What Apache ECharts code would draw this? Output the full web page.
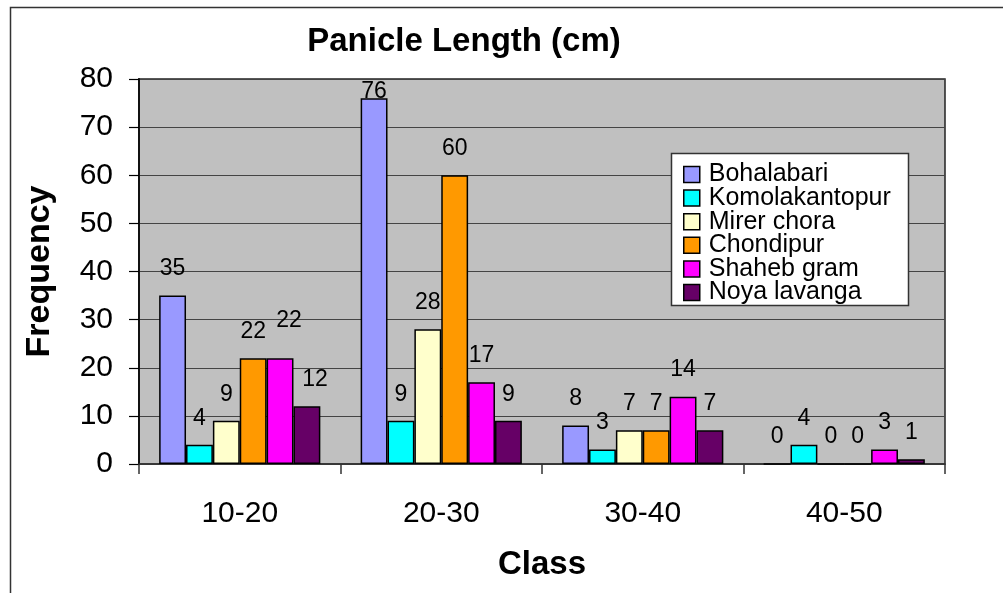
<!DOCTYPE html>
<html><head><meta charset="utf-8">
<script src="https://cdn.jsdelivr.net/npm/echarts@6/dist/echarts.min.js"></script>
<style>html,body{margin:0;padding:0;background:#fff}#c{width:1003px;height:593px}</style>
</head><body><div id="c"></div>
<script>
const categories = ['10-20', '20-30', '30-40', '40-50'];
const seriesNames = ['Bohalabari', 'Komolakantopur', 'Mirer chora', 'Chondipur', 'Shaheb gram', 'Noya lavanga'];
const bohalabari = [35, 76, 8, 0];
const komolakantopur = [4, 9, 3, 4];
const mirerChora = [9, 28, 7, 0];
const chondipur = [22, 60, 7, 0];
const shahebGram = [22, 17, 14, 3];
const noyaLavanga = [12, 9, 7, 1];
const colors = ['#9999ff', '#00ffff', '#ffffcc', '#ff9900', '#ff00ff', '#660066'];
const yTicks = [0, 10, 20, 30, 40, 50, 60, 70, 80];

const allData = [bohalabari, komolakantopur, mirerChora, chondipur, shahebGram, noyaLavanga];
const FONT = '"Liberation Sans", Arial, sans-serif';

// label nudges (like the original's collision-avoided data labels): "series|category" -> [dx, dy]
const labelNudge = {'4|0': [9, -11], '5|0': [8, 0]};

const chart = echarts.init(document.getElementById('c'), null, {renderer: 'canvas'});
const series = seriesNames.map((name, i) => ({
  name, type: 'bar', barGap: '0%', barCategoryGap: '20%',
  data: allData[i].map((v, j) => {
    const item = {value: v};
    if (v >= 75) item.label = {distance: -5};
    const n = labelNudge[i + '|' + j];
    if (n) item.label = {offset: n};
    return item;
  }),
  itemStyle: {color: colors[i], borderColor: '#000', borderWidth: 1.5},
  label: {show: true, position: 'top', distance: 15, color: '#000', fontSize: 23, fontFamily: FONT},
  emphasis: {disabled: true}
}));

chart.setOption({
  animation: false,
  backgroundColor: '#fff',
  title: {text: 'Panicle Length (cm)', left: 459, top: 20, textAlign: 'center',
    textStyle: {fontSize: 33, fontWeight: 'bold', fontFamily: FONT, color: '#000'}},
  graphic: [
    {type: 'rect', shape: {x: 10.5, y: 7.5, width: 1000, height: 600},
      style: {fill: 'none', stroke: '#333', lineWidth: 1.5}, z: 100},
    {type: 'rect', shape: {x: 671.5, y: 153.5, width: 237, height: 152},
      style: {fill: '#fff', stroke: '#333', lineWidth: 1.5}, z: 3}
  ],
  legend: {
    data: seriesNames, orient: 'vertical', left: 671, top: 153, z: 5,
    itemWidth: 16, itemHeight: 16, itemGap: -1.4,
    padding: [9, 10, 5, 12],
    textStyle: {fontSize: 25, fontFamily: FONT, color: '#000', padding: [0, 0, 0, 4]},
    itemStyle: {borderColor: '#000', borderWidth: 1.5},
    icon: 'rect'
  },
  grid: {left: 139, right: 58, top: 79, bottom: 129, show: true,
    backgroundColor: '#c0c0c0', borderColor: '#222', borderWidth: 1.5},
  xAxis: {
    type: 'category', data: categories,
    name: 'Class', nameLocation: 'middle', nameGap: 84,
    nameTextStyle: {fontSize: 33, fontWeight: 'bold', fontFamily: FONT, color: '#000'},
    axisLine: {lineStyle: {color: '#333', width: 1.5}},
    axisTick: {show: true, length: 10, lineStyle: {color: '#333', width: 1.5}},
    axisLabel: {fontSize: 30, fontFamily: FONT, color: '#000', margin: 35}
  },
  yAxis: {
    type: 'value', min: 0, max: 80, interval: 10,
    name: 'Frequency', nameLocation: 'middle', nameGap: 82,
    nameTextStyle: {fontSize: 34, fontWeight: 'bold', fontFamily: FONT, color: '#000'},
    axisLine: {show: true, lineStyle: {color: '#111', width: 2}},
    axisTick: {show: true, length: 10, lineStyle: {color: '#000', width: 1.2}},
    axisLabel: {fontSize: 30, fontFamily: FONT, color: '#000', margin: 26,
      formatter: v => yTicks.includes(v) ? String(v) : ''},
    splitLine: {show: true, lineStyle: {color: '#444', width: 1.2}}
  },
  series
});
</script></body></html>
